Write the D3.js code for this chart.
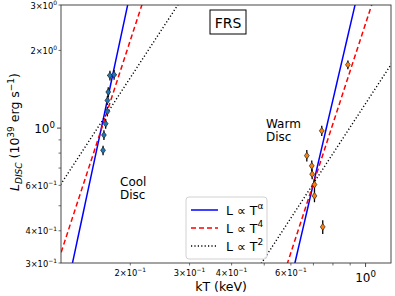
<!DOCTYPE html>
<html><head><meta charset="utf-8">
<script src="https://cdn.jsdelivr.net/npm/d3@7"></script>
<style>body{margin:0;background:#fff}svg{display:block;font-family:"DejaVu Sans",sans-serif}</style>
</head><body><svg id="c" width="395" height="296"></svg>
<script>
// Data
const coolKT = [0.174, 0.179, 0.172, 0.171, 0.171, 0.169, 0.167, 0.166];
const coolL  = [1.60, 1.61, 1.38, 1.28, 1.16, 1.04, 0.94, 0.82];
const coolLerr = [0.07, 0.07, 0.06, 0.05, 0.05, 0.045, 0.04, 0.035];
const coolKTerr = [0.003, 0.003, 0.002, 0.002, 0.002, 0.002, 0.002, 0.002];
const warmKT = [0.886, 0.741, 0.669, 0.692, 0.694, 0.705, 0.705, 0.746];
const warmL  = [1.76, 0.976, 0.782, 0.714, 0.663, 0.604, 0.546, 0.414];
const warmLerr = [0.07, 0.045, 0.04, 0.035, 0.03, 0.03, 0.03, 0.025];
const warmKTerr = [0.008, 0.005, 0.004, 0.004, 0.004, 0.004, 0.004, 0.004];
// power-law relations: [pivot kT, pivot L, exponent]
const coolFits = {alpha:[0.1672, 1.123, 6.1], four:[0.1693, 1.123, 4], two:[0.1693, 1.123, 2]};
const warmFits = {alpha:[0.700, 0.610, 5.6], four:[0.700, 0.610, 4], two:[0.700, 0.610, 2]};
const legendLabels = [["L \u221d T","\u03b1"],["L \u221d T","4"],["L \u221d T","2"]];
const xTickLabeled = [0.2, 0.3, 0.4, 0.6];
const xMinor = [0.2,0.3,0.4,0.5,0.6,0.7,0.8,0.9];
const yMinorLabeled = [0.3, 0.4, 0.6, 2, 3];
const yMinor = [0.3,0.4,0.5,0.6,0.7,0.8,0.9,2,3];

const svg = d3.select("#c");
const L=61, R=391, T=5, B=263;
const x = d3.scaleLog().domain([0.1245, 1.19]).range([L, R]);
const y = d3.scaleLog().domain([0.3, 3]).range([B, T]);

svg.append("defs").append("clipPath").attr("id","cp").append("rect")
  .attr("x",L).attr("y",T).attr("width",R-L).attr("height",B-T);
const g = svg.append("g").attr("clip-path","url(#cp)");

const styles = {alpha:{c:"#0000ff",d:null,w:1.5}, four:{c:"#ff0000",d:"5,3",w:1.5}, two:{c:"#000",d:"1.2,2.2",w:1.4}};
function drawFit(f, key){
  const [t0,l0,n]=f[key];
  const ts = d3.range(0,201).map(i=>Math.exp(Math.log(0.1)+i/200*(Math.log(1.3)-Math.log(0.1))));
  const line = d3.line().x(t=>x(t)).y(t=>y(l0*Math.pow(t/t0,n)));
  g.append("path").attr("d",line(ts)).attr("fill","none")
   .attr("stroke",styles[key].c).attr("stroke-width",styles[key].w)
   .attr("stroke-dasharray",styles[key].d);
}
["alpha","four","two"].forEach(k=>{drawFit(coolFits,k);drawFit(warmFits,k);});

function drawPts(kt, lum, le, ke, col){
  kt.forEach((t,i)=>{
    const px=x(t), py=y(lum[i]);
    g.append("line").attr("x1",px).attr("x2",px).attr("y1",y(lum[i]-le[i])).attr("y2",y(lum[i]+le[i])).attr("stroke","#000").attr("stroke-width",1.3);
    g.append("line").attr("x1",x(t-ke[i])).attr("x2",x(t+ke[i])).attr("y1",py).attr("y2",py).attr("stroke","#000").attr("stroke-width",1.3);
    g.append("path").attr("d",`M${px},${py-3.3}L${px+2.4},${py}L${px},${py+3.3}L${px-2.4},${py}Z`)
      .attr("fill",col).attr("stroke","#222").attr("stroke-width",0.7);
  });
}
drawPts(coolKT, coolL, coolLerr, coolKTerr, "#1f77b4");
drawPts(warmKT, warmL, warmLerr, warmKTerr, "#ff7f0e");

// frame
svg.append("rect").attr("x",L).attr("y",T).attr("width",R-L).attr("height",B-T).attr("fill","none").attr("stroke","#333").attr("stroke-width",0.9);

function sci(sel, m, e, fs){
  const t = sel.append("text").attr("font-size",fs).attr("fill","#000");
  if(m!==null){ t.append("tspan").text(m+"\u00d7"+"10"); } else { t.append("tspan").text("10"); }
  t.append("tspan").attr("dy",-fs*0.45).attr("font-size",fs*0.72).text(e);
  return t;
}
// x ticks
xMinor.forEach(v=>{svg.append("line").attr("x1",x(v)).attr("x2",x(v)).attr("y1",B).attr("y2",B+2.5).attr("stroke","#333").attr("stroke-width",0.7);});
svg.append("line").attr("x1",x(1)).attr("x2",x(1)).attr("y1",B).attr("y2",B+4).attr("stroke","#333").attr("stroke-width",0.9);
xTickLabeled.forEach(v=>{
  const m = Math.round(v*10);
  sci(svg, m, "\u22121", 8.3).attr("x",x(v)).attr("y",B+13).attr("text-anchor","middle");
});
sci(svg, null, "0", 12).attr("x",x(1)).attr("y",B+19).attr("text-anchor","middle");
// y ticks
yMinor.forEach(v=>{svg.append("line").attr("x1",L-2.5).attr("x2",L).attr("y1",y(v)).attr("y2",y(v)).attr("stroke","#333").attr("stroke-width",0.7);});
svg.append("line").attr("x1",L-4).attr("x2",L).attr("y1",y(1)).attr("y2",y(1)).attr("stroke","#333").attr("stroke-width",0.9);
yMinorLabeled.forEach(v=>{
  const e = v<1 ? "\u22121" : "0"; const m = v<1 ? Math.round(v*10) : v;
  sci(svg, m, e, 8.3).attr("x",L-4).attr("y",y(v)+3.5).attr("text-anchor","end");
});
sci(svg, null, "0", 12).attr("x",L-6).attr("y",y(1)+5).attr("text-anchor","end");

// axis labels
svg.append("text").attr("x",221).attr("y",291).attr("text-anchor","middle").attr("font-size",12.5).text("kT (keV)");
const yl = svg.append("text").attr("transform","translate(19,132) rotate(-90)").attr("text-anchor","middle").attr("font-size",12.5);
yl.append("tspan").attr("font-style","italic").text("L");
yl.append("tspan").attr("font-style","italic").attr("font-size",9).attr("dy",3).text("DISC");
yl.append("tspan").attr("dy",-3).text(" (10");
yl.append("tspan").attr("font-size",9).attr("dy",-5).text("39");
yl.append("tspan").attr("dy",5).text(" erg s");
yl.append("tspan").attr("font-size",9).attr("dy",-5).text("\u22121");
yl.append("tspan").attr("dy",5).text(")");

// annotations
svg.append("rect").attr("x",210).attr("y",10).attr("width",36).attr("height",24).attr("fill","#fff").attr("stroke","#000").attr("stroke-width",1);
svg.append("text").attr("x",228).attr("y",27.5).attr("text-anchor","middle").attr("font-size",14).text("FRS");
[["Cool",120,186],["Disc",120,198.5],["Warm",266,128],["Disc",266,140.5]].forEach(d=>{
  svg.append("text").attr("x",d[1]).attr("y",d[2]).attr("font-size",12).text(d[0]);
});

// legend
const lg = svg.append("g");
lg.append("rect").attr("x",186).attr("y",197).attr("width",81).attr("height",62).attr("rx",3).attr("fill","#fff").attr("fill-opacity",0.85).attr("stroke","#ccc").attr("stroke-width",0.9);
["alpha","four","two"].forEach((k,i)=>{
  const yy = 210 + i*18;
  lg.append("line").attr("x1",191).attr("x2",218).attr("y1",yy).attr("y2",yy)
    .attr("stroke",styles[k].c).attr("stroke-width",styles[k].w).attr("stroke-dasharray",styles[k].d);
  const t = lg.append("text").attr("x",226).attr("y",yy+5).attr("font-size",12.5);
  t.append("tspan").text(legendLabels[i][0]);
  t.append("tspan").attr("dy",-6).attr("font-size",9).text(legendLabels[i][1]);
});
</script></body></html>
